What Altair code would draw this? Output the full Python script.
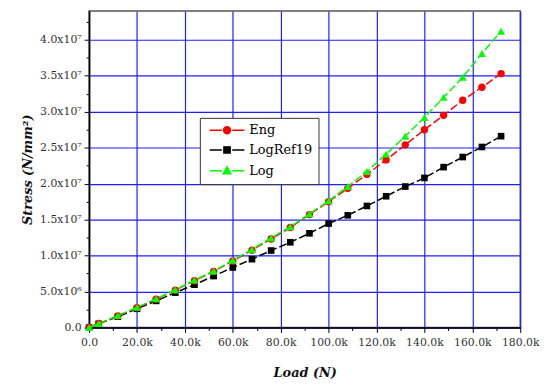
import json
import altair as alt
import pandas as pd

# ---------------- data ----------------
load = [0, 4000, 12000, 20000, 28000, 36000, 44000, 52000, 60000, 68000, 76000,
        84000, 92000, 100000, 108000, 116000, 124000, 132000, 140000, 148000,
        156000, 164000, 172000]
eng = [0, 0.55e6, 1.6e6, 2.75e6, 3.95e6, 5.2e6, 6.5e6, 7.8e6, 9.25e6, 10.75e6,
       12.3e6, 13.9e6, 15.7e6, 17.5e6, 19.35e6, 21.3e6, 23.3e6, 25.4e6, 27.5e6,
       29.5e6, 31.6e6, 33.4e6, 35.3e6]
logref19 = [0, 0.5e6, 1.5e6, 2.6e6, 3.7e6, 4.85e6, 5.95e6, 7.15e6, 8.35e6, 9.5e6,
            10.7e6, 11.85e6, 13.1e6, 14.45e6, 15.6e6, 16.9e6, 18.25e6, 19.6e6,
            20.8e6, 22.3e6, 23.7e6, 25.1e6, 26.6e6]
log_ = [0, 0.55e6, 1.65e6, 2.8e6, 4.0e6, 5.25e6, 6.6e6, 7.85e6, 9.35e6, 10.85e6,
        12.45e6, 14.0e6, 15.8e6, 17.6e6, 19.6e6, 21.7e6, 24.1e6, 26.6e6, 29.2e6,
        32.0e6, 34.8e6, 38.1e6, 41.2e6]

series_names = ["Eng", "LogRef19", "Log"]
series_colors = ["#FF0000", "#000000", "#00FF00"]

x_major = [0, 20000, 40000, 60000, 80000, 100000, 120000, 140000, 160000, 180000]
x_labels = ["0.0", "20.0k", "40.0k", "60.0k", "80.0k", "100.0k", "120.0k",
            "140.0k", "160.0k", "180.0k"]
x_minor = [10000, 30000, 50000, 70000, 90000, 110000, 130000, 150000, 170000]

y_major = [0, 5000000, 10000000, 15000000, 20000000, 25000000, 30000000,
           35000000, 40000000]
y_labels = ["0.0", "5.0x10\u2076", "1.0x10\u2077", "1.5x10\u2077", "2.0x10\u2077",
            "2.5x10\u2077", "3.0x10\u2077", "3.5x10\u2077", "4.0x10\u2077"]
y_minor = [2500000, 7500000, 12500000, 17500000, 22500000, 27500000, 32500000,
           37500000, 42500000]

# ---------------- table ----------------
rows = []
for name, vals in zip(series_names, [eng, logref19, log_]):
    for l, v in zip(load, vals):
        rows.append({"load": l, "stress": v, "series": name})
df = pd.DataFrame(rows)

FONT = "DejaVu Serif"

def label_expr(major, labels):
    m = json.dumps(major)
    return f"indexof({m}, datum.value) >= 0 ? {json.dumps(labels)}[indexof({m}, datum.value)] : ''"

def minor_test(major):
    return f"indexof({json.dumps(major)}, datum.value) < 0"

x_enc = alt.X(
    "load:Q",
    scale=alt.Scale(domain=[0, 180000], nice=False, zero=False),
    axis=alt.Axis(
        values=sorted(x_major + x_minor),
        labelExpr=label_expr(x_major, x_labels),
        labelOverlap=False,
        labelFlush=False,
        tickSize={"condition": {"test": minor_test(x_major), "value": 3}, "value": 5},
        gridOpacity={"condition": {"test": minor_test(x_major), "value": 0}, "value": 1},
        labelPadding=4,
        title="Load (N)",
        titleX=218,
        titleY=46,
        titleBaseline="middle",
    ),
)
y_enc = alt.Y(
    "stress:Q",
    scale=alt.Scale(domain=[0, 44000000], nice=False, zero=False),
    axis=alt.Axis(
        values=sorted(y_major + y_minor),
        labelExpr=label_expr(y_major, y_labels),
        labelOverlap=False,
        labelFlush=False,
        tickSize={"condition": {"test": minor_test(y_major), "value": 3}, "value": 5},
        gridOpacity={"condition": {"test": minor_test(y_major), "value": 0}, "value": 1},
        labelPadding=3,
        title="Stress (N/mm\u00b2)",
        titleAngle=270,
        titleX=-62,
        titleY=160,
        titleBaseline="middle",
        titleAlign="center",
    ),
)

base = alt.Chart(df)

layers = []
for name, color, shape, size in [("LogRef19", "#000000", "square", 45),
                                 ("Eng", "#FF0000", "circle", 55),
                                 ("Log", "#00FF00", "triangle-up", 65)]:
    sub = base.transform_filter(alt.datum.series == name)
    layers.append(sub.mark_line(color=color, strokeDash=[8, 3], strokeWidth=1.5)
                  .encode(x=x_enc, y=y_enc))
    layers.append(sub.mark_point(shape=shape, filled=True, color=color, size=size,
                                 opacity=1).encode(x=x_enc, y=y_enc))

# legend symbols: line - marker - line
legend_paths = [
    "M-5,0L-1.5,0M1.5,0L5,0M-1,0A1,1 0 1,1 1,0A1,1 0 1,1 -1,0Z",
    "M-5,0L-1.5,0M1.5,0L5,0M-0.9,-0.9H0.9V0.9H-0.9Z",
    "M-5,0L-1.5,0M1.5,0L5,0M0,-1.15L1.1,0.85H-1.1Z",
]
legend_layer = base.transform_filter("datum.load < 0").mark_point(
    filled=True, size=49, strokeWidth=1.5, opacity=1
).encode(
    x=x_enc, y=y_enc,
    fill=alt.Fill("series:N", scale=alt.Scale(domain=series_names, range=series_colors),
                  legend=alt.Legend(title=None)),
    stroke=alt.Stroke("series:N", scale=alt.Scale(domain=series_names, range=series_colors),
                      legend=alt.Legend(title=None)),
    shape=alt.Shape("series:N", scale=alt.Scale(domain=series_names, range=legend_paths),
                    legend=alt.Legend(title=None)),
)
layers.append(legend_layer)

chart = alt.layer(*layers).properties(
    width=436, height=320,
    autosize=alt.AutoSizeParams(type="none"),
    padding={"left": 82, "top": 1, "right": 22, "bottom": 50},
).configure_view(
    stroke="#555555", strokeWidth=1.5
).configure_axis(
    domainColor="#000000", domainWidth=1.5,
    tickColor="#000000", tickWidth=1,
    gridColor="#1f1fff", gridWidth=1.2,
    labelFont=FONT, labelFontSize=11, labelColor="#333333",
    titleFont=FONT, titleFontSize=13, titleFontWeight="bold",
    titleFontStyle="italic", titleColor="#111111",
).configure_legend(
    orient="none", legendX=112, legendY=108,
    fillColor="white", strokeColor="#333333", padding=6,
    labelFont=FONT, labelFontSize=13, labelColor="#000000",
    symbolSize=49, symbolStrokeWidth=1.5, symbolOffset=15,
    labelOffset=16, rowPadding=6,
)

chart.save("out.html", embed_options={"renderer": "svg", "actions": False})
